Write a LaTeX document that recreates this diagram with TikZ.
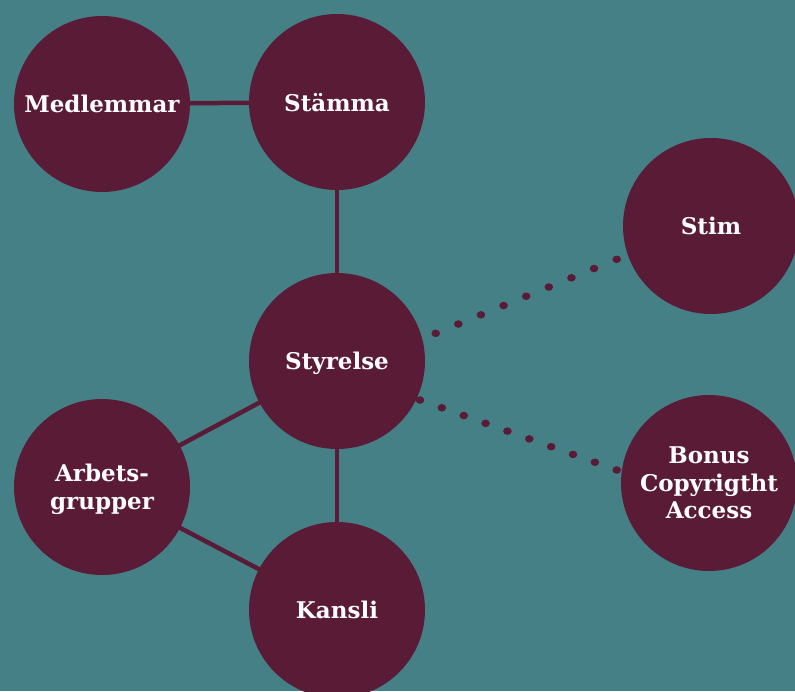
\documentclass[tikz,border=0pt]{standalone}
\usepackage{fontspec}
\setmainfont{DejaVu Serif}
\usetikzlibrary{calc}
\definecolor{bg}{RGB}{69,128,134}
\definecolor{maroon}{RGB}{90,27,54}
\begin{document}
\begin{tikzpicture}[x=1pt,y=-1pt,
  orgcircle/.style={circle,fill=maroon,minimum size=176pt,inner sep=0pt,text=white,
    font=\fontsize{23}{27.5}\selectfont\bfseries,align=center,text depth=0pt},
  link/.style={draw=maroon,line width=4.5pt},
  dotmark/.style={fill=maroon}]
\fill[bg] (0,0) rectangle (795,691);
\useasboundingbox (0,0) rectangle (795,691);
\coordinate (m) at (102,104);
\coordinate (s) at (337,102);
\coordinate (st) at (337,361);
\coordinate (ar) at (102,487);
\coordinate (ka) at (337,610);
\draw[link] (m) -- (s);
\draw[link] (s) -- (st);
\draw[link] (st) -- (ka);
\draw[link] (ar) -- (st);
\draw[link] (ar) -- (ka);
\node[orgcircle] (med) at (m) {Medlemmar};
\node[orgcircle] (sta) at (s) {Stämma};
\node[orgcircle] (sty) at (st) {Styrelse};
\node[orgcircle] (arb) at (ar) {Arbets-\\grupper};
\node[orgcircle] (kan) at (ka) {Kansli};
\node[orgcircle] (stim) at (711,226) {Stim};
\node[orgcircle] (bon) at (709,483) {Bonus\\Copyrigtht\\Access};
\coordinate (d1a) at (435.7,333.3);
\coordinate (d1b) at (616.7,259.3);
\coordinate (d2a) at (420,400);
\coordinate (d2b) at (616.7,470);
\foreach \i in {0,...,8} \fill[dotmark] ($(d1a)!\i/8!(d1b)$) ellipse [x radius=4.3pt, y radius=3.8pt];
\foreach \i in {0,...,9} \fill[dotmark] ($(d2a)!\i/9!(d2b)$) ellipse [x radius=4.3pt, y radius=3.8pt];
\end{tikzpicture}
\end{document}
